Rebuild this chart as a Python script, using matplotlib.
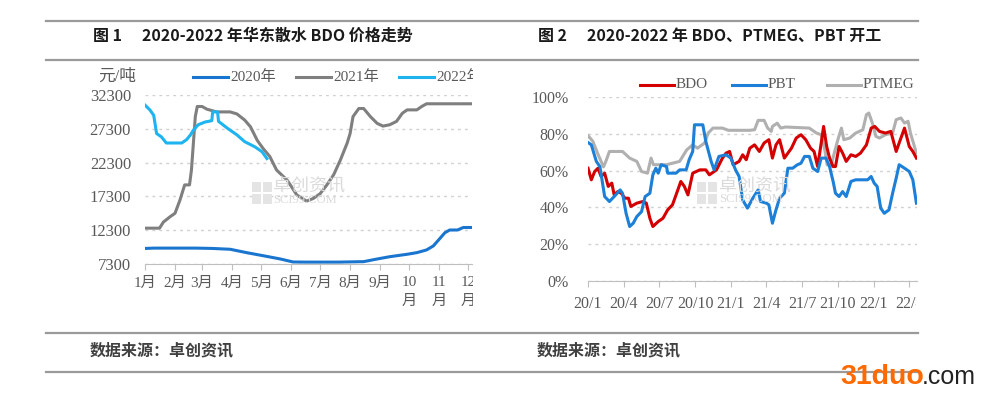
import matplotlib
matplotlib.use('Agg')
import matplotlib.pyplot as plt
from matplotlib.lines import Line2D
from matplotlib.patches import Rectangle
from matplotlib.transforms import Bbox, TransformedBbox

# ---- data: figure 1, East China BDO price (yuan/ton), x = day of year ----
days_2020 = [0, 9, 30, 53, 70, 88, 105, 122, 140, 153, 165, 200, 226, 240, 253, 271, 281, 291, 298, 305, 310, 315, 323, 329, 338]
price_2020 = [9600, 9650, 9650, 9650, 9600, 9480, 8980, 8530, 8040, 7600, 7580, 7580, 7650, 8040, 8380, 8740, 8980, 9380, 9970, 11110, 11930, 12330, 12330, 12700, 12700]

days_2021 = [0, 15, 19, 26, 31, 36, 41, 46, 48, 52, 54, 59, 64, 74, 88, 95, 103, 109, 116, 122, 129, 136, 147, 157, 167, 174, 181, 188, 195, 202, 209, 212, 215, 221, 226, 233, 240, 246, 253, 260, 266, 271, 281, 286, 291, 338]
price_2021 = [12600, 12600, 13500, 14300, 14800, 16700, 19000, 19000, 21200, 29100, 30600, 30600, 30200, 29800, 29800, 29500, 28600, 27600, 25600, 24400, 23200, 21200, 19700, 17500, 16600, 17000, 17700, 19000, 20500, 22700, 25200, 26600, 29100, 30300, 30300, 29100, 28100, 27700, 27900, 28400, 29600, 30100, 30100, 30600, 31000, 31000]

days_2022 = [0, 5, 9, 12, 17, 22, 38, 43, 47, 50, 55, 62, 69, 70, 75, 76, 85, 95, 103, 114, 121, 126]
price_2022 = [30800, 30100, 29300, 26600, 26100, 25200, 25200, 25700, 26400, 27100, 27900, 28300, 28500, 29800, 29800, 28400, 27400, 26400, 25400, 24600, 23900, 22900]

month_starts = [0, 31, 59, 90, 120, 151, 181, 212, 243, 273, 304, 334]
month_labels = ['1月', '2月', '3月', '4月', '5月', '6月', '7月', '8月', '9月', '10\n月', '11\n月', '12\n月']
price_ticks = [7300, 12300, 17300, 22300, 27300, 32300]

# ---- data: figure 2, operating rates (%), x = months since 2020/1 ----
m_bdo = [0, 0.28, 0.56, 0.84, 1.1, 1.4, 1.7, 2.0, 2.2, 2.5, 2.8, 3.1, 3.4, 3.6, 4.1, 4.6, 4.9, 5.2, 5.45, 5.9,
         6.3, 6.7, 7.1, 7.55, 7.8, 8.1, 8.4, 8.8, 9.4, 9.9, 10.2, 10.8, 11.3, 11.6, 11.9, 12.2, 12.7, 13.0, 13.3, 13.6,
         14.0, 14.4, 14.8, 15.2, 15.5, 15.8, 16.1, 16.5, 17.1, 17.5, 17.9, 18.3, 18.7, 19.0, 19.3, 19.6, 19.8, 20.06, 20.3, 20.6,
         20.8, 21.1, 21.4, 21.7, 22.1, 22.5, 22.9, 23.4, 23.8, 24.1, 24.5, 25.0, 25.45, 25.9, 26.15, 26.6, 27.0, 27.3, 27.6]
bdo = [61.3, 55, 59.5, 61.3, 56.8, 58.6, 51.4, 53.2, 46.8, 48.6, 47.7, 45, 45, 40.5, 42.3, 43.2, 42.3, 34.1, 29.6, 32.3,
       34.1, 38.7, 41.4, 49.5, 54.1, 51.4, 46.8, 58.6, 60.4, 60.4, 57.7, 60.4, 66.8, 69.5, 70.4, 63.2, 65, 68.6, 65.9, 72.2,
       74, 70.4, 75, 76.8, 66.8, 74, 76.8, 66.8, 72.2, 77.7, 79.5, 76.8, 72.2, 70.4, 62.2, 75, 84, 73.1, 66.8, 62.2,
       62.2, 73.1, 69.5, 65, 68.6, 67.7, 69.5, 74, 83.1, 84, 81.3, 80.4, 81.3, 70.4, 75, 83.1, 73.1, 70.4, 66.8]

m_pbt = [0, 0.28, 0.7, 1.0, 1.4, 1.8, 2.2, 2.7, 2.9, 3.2, 3.5, 3.8, 4.1, 4.5, 4.8, 5.2, 5.45, 5.7, 5.9, 6.15,
         6.6, 6.7, 7.4, 7.7, 8.25, 8.5, 8.8, 8.95, 9.65, 9.9, 10.35, 10.6, 11.0, 11.6, 12.0, 12.4, 12.7, 13.0, 13.4, 13.85,
         14.3, 14.5, 15.0, 15.2, 15.5, 15.8, 16.1, 16.5, 16.8, 17.2, 17.6, 17.9, 18.2, 18.6, 18.9, 19.3, 19.6, 20.0, 20.3, 20.6,
         20.8, 21.1, 21.4, 21.7, 22.1, 22.5, 23.5, 23.8, 24.05, 24.3, 24.6, 24.9, 25.3, 25.6, 25.9, 26.15, 26.6, 27.0, 27.3, 27.6]
pbt = [75.3, 74, 65, 62.2, 45.9, 43.2, 45.9, 49.5, 47.7, 36.8, 29.6, 31.4, 35, 37.7, 45.9, 47.7, 57.7, 61.3, 58.6, 63.2,
       62.2, 58.6, 58.6, 60.4, 60.4, 65.9, 70.4, 84.9, 84.9, 75.9, 65, 60.4, 67.7, 68.6, 66.8, 60.4, 56.8, 44.1, 39.6, 45,
       49.5, 43.2, 42.3, 41.4, 31.4, 38.7, 45, 47.7, 61.3, 61.3, 63.2, 64, 67.7, 67.7, 61.3, 59.5, 66.8, 66.8, 62.2, 54.1,
       47.7, 45.9, 48.6, 45.9, 54.1, 55, 55, 56.8, 53.2, 51.4, 39.6, 36.8, 38.7, 47.7, 55.9, 63.2, 61.3, 59.5, 55, 42.3]

m_ptmeg = [0, 0.4, 0.8, 1.3, 1.5, 1.8, 2.9, 3.5, 4.1, 4.5, 5.0, 5.3, 5.5, 6.6, 7.7, 8.3, 8.8, 9.2, 9.8, 10.1,
           10.5, 11.3, 11.8, 13.6, 14.0, 14.3, 14.8, 15.1, 15.4, 15.5, 15.9, 16.2, 16.6, 18.6, 19.2, 19.6, 19.9, 20.1, 20.4, 20.7,
           21.0, 21.3, 21.5, 22.0, 22.5, 23.1, 23.4, 23.6, 23.9, 24.2, 24.5, 25.0, 25.6, 25.9, 26.3, 26.6, 26.9, 27.1, 27.6]
ptmeg = [79, 76, 69.5, 62, 65, 70.4, 70.4, 66.8, 65, 59.5, 58.6, 66.8, 63.2, 63.2, 65, 71.3, 74, 72.2, 75, 80.4,
         83.1, 83.1, 81.9, 81.9, 82.2, 87.3, 87.3, 83.1, 81.3, 84, 85.8, 83.1, 83.7, 83.1, 80.4, 79.5, 71.3, 63.2, 62.2, 69.5,
         76.8, 83.1, 76.8, 77.7, 80.4, 82.2, 90.4, 91.3, 85.8, 78.6, 77.7, 79.5, 80.4, 87.7, 88.6, 85.8, 86.8, 80.4, 69.5]

quarter_pos = [0, 3, 6, 9, 12, 15, 18, 21, 24, 27]
quarter_labels = ['20/1', '20/4', '20/7', '20/10', '21/1', '21/4', '21/7', '21/10', '22/1', '22/4']
rate_ticks = [0, 20, 40, 60, 80, 100]

# ---- layout helpers (pixel -> figure fraction) ----
W, H = 1003, 397
def fx(x):
    return x / W
def fy(y):
    return 1 - y / H

SERIF = ['Liberation Serif', 'Noto Sans CJK SC']
SANS = ['Noto Sans CJK SC', 'DejaVu Sans']
plt.rcParams['font.family'] = SERIF
tick_color = '#595959'
grid_color = '#D0D0D0'

fig = plt.figure(figsize=(W / 100, H / 100), dpi=100)

# header / footer rules
for y in [21, 60, 333, 372]:
    fig.add_artist(Line2D([fx(46), fx(918)], [fy(y), fy(y)], color='#9A9A9A', lw=1.6))

fig.text(fx(93), fy(36), '图 1', family=SANS, fontsize=11.5, fontweight='bold', color='#1a1a1a', va='center')
fig.text(fx(142), fy(36), '2020-2022 年华东散水 BDO 价格走势', family=SANS, fontsize=11.5,
         fontweight='bold', color='#1a1a1a', va='center')
fig.text(fx(538), fy(36), '图 2', family=SANS, fontsize=11.5, fontweight='bold', color='#1a1a1a', va='center')
fig.text(fx(587), fy(36), '2020-2022 年 BDO、PTMEG、PBT 开工', family=SANS, fontsize=11.5,
         fontweight='bold', color='#1a1a1a', va='center')
fig.text(fx(90), fy(350), '数据来源：卓创资讯', family=SANS, fontsize=11.5, fontweight='bold', color='#404040', va='center')
fig.text(fx(537), fy(350), '数据来源：卓创资讯', family=SANS, fontsize=11.5, fontweight='bold', color='#404040', va='center')

# ---------------- figure 1 ----------------
ax1 = fig.add_axes([fx(145), fy(264), fx(472) - fx(145), fy(95) - fy(264)])
c2020, c2021, c2022 = '#1A75CF', '#7F7F7F', '#1EB4F0'
ax1.plot(days_2020, price_2020, color=c2020, lw=2.2, solid_joinstyle='round')
ax1.plot(days_2021, price_2021, color=c2021, lw=2.2, solid_joinstyle='round')
ax1.plot(days_2022, price_2022, color=c2022, lw=2.2, solid_joinstyle='round')
ax1.set_xlim(0, 338)
ax1.set_ylim(7300, 32300)
ax1.set_yticks(price_ticks)
ax1.set_yticklabels([str(v) for v in price_ticks])
ax1.set_xticks(month_starts)
ax1.set_xticklabels(month_labels, linespacing=1.5)
ax1.grid(axis='y', linestyle=(0, (2, 3)), color=grid_color, lw=1)
ax1.set_axisbelow(True)
for s in ['top', 'right', 'left']:
    ax1.spines[s].set_visible(False)
ax1.spines['bottom'].set_color('#BFBFBF')
ax1.tick_params(axis='y', length=0, pad=10, labelsize=12, labelcolor=tick_color)
ax1.tick_params(axis='x', length=4, color='#BFBFBF', pad=5, labelsize=11, labelcolor=tick_color)
clip1 = TransformedBbox(Bbox([[0, 0], [fx(473), 1]]), fig.transFigure)
for lbl in ax1.get_xticklabels():
    lbl.set_clip_on(True)
    lbl.set_clip_box(clip1)

fig.text(fx(98), fy(77), '元/吨', fontsize=12, color=tick_color, va='center')
for x0, col, lab in [(193, c2020, '2020年'), (296, c2021, '2021年'), (399, c2022, '2022年')]:
    fig.add_artist(Line2D([fx(x0), fx(x0 + 35)], [fy(77), fy(77)], color=col, lw=2.2))
    t = fig.text(fx(x0 + 37), fy(77), lab, fontsize=11, color=tick_color, va='center')
    t.set_clip_on(True)
    t.set_clip_box(clip1)

# watermark
for dx, dy in [(0, 0), (11, 0), (0, 12), (11, 12)]:
    fig.add_artist(Rectangle((fx(252 + dx), fy(192 + dy)), 9 / W, 10 / H, color='#E4E4E4', lw=0))
fig.text(fx(273), fy(186), '卓创资讯', family=SANS, fontsize=13, color='#DADADA', va='center')
fig.text(fx(273), fy(200), 'SCI99.COM', fontsize=9, color='#DADADA', va='center')

# ---------------- figure 2 ----------------
ax2 = fig.add_axes([fx(588), fy(281), fx(917) - fx(588), fy(97) - fy(281)])
cb, cp, cg = '#D40000', '#1C7FD8', '#B0B0B0'
ax2.plot(m_ptmeg, ptmeg, color=cg, lw=2.2, solid_joinstyle='round')
ax2.plot(m_bdo, bdo, color=cb, lw=2.2, solid_joinstyle='round')
ax2.plot(m_pbt, pbt, color=cp, lw=2.2, solid_joinstyle='round')
ax2.set_xlim(0, 27.65)
ax2.set_ylim(0, 100)
ax2.set_yticks(rate_ticks)
ax2.set_yticklabels([f'{v}%' for v in rate_ticks])
ax2.set_xticks(quarter_pos)
ax2.set_xticklabels(quarter_labels)
ax2.grid(axis='y', linestyle=(0, (2, 3)), color=grid_color, lw=1)
ax2.set_axisbelow(True)
for s in ['top', 'right', 'left']:
    ax2.spines[s].set_visible(False)
ax2.spines['bottom'].set_color('#BFBFBF')
ax2.tick_params(axis='y', length=0, pad=14, labelsize=11.5, labelcolor=tick_color)
ax2.tick_params(axis='x', length=4, color='#BFBFBF', pad=7, labelsize=11.5, labelcolor=tick_color)
clip2 = TransformedBbox(Bbox([[0, 0], [fx(916), 1]]), fig.transFigure)
for lbl in ax2.get_xticklabels():
    lbl.set_clip_on(True)
    lbl.set_clip_box(clip2)

for x0, col, lab in [(640, cb, 'BDO'), (732, cp, 'PBT'), (827, cg, 'PTMEG')]:
    fig.add_artist(Line2D([fx(x0), fx(x0 + 34)], [fy(85), fy(85)], color=col, lw=2.2))
    fig.text(fx(x0 + 36), fy(85), lab, fontsize=11, color=tick_color, va='center')

for dx, dy in [(0, 0), (11, 0), (0, 12), (11, 12)]:
    fig.add_artist(Rectangle((fx(697 + dx), fy(192 + dy)), 9 / W, 10 / H, color='#E4E4E4', lw=0))
fig.text(fx(719), fy(186), '卓创资讯', family=SANS, fontsize=13, color='#DADADA', va='center')
fig.text(fx(719), fy(199), 'SCI99.COM', fontsize=9, color='#DADADA', va='center')

# site mark
fig.text(fx(840), fy(384), '31duo', family=['Liberation Sans'], fontsize=20.5, fontweight='bold',
         color='#FF6A00', va='baseline')
fig.text(fx(922), fy(384), '.com', family=['Liberation Sans'], fontsize=18, color='#222222', va='baseline')

fig.savefig('out.png', dpi=100)
